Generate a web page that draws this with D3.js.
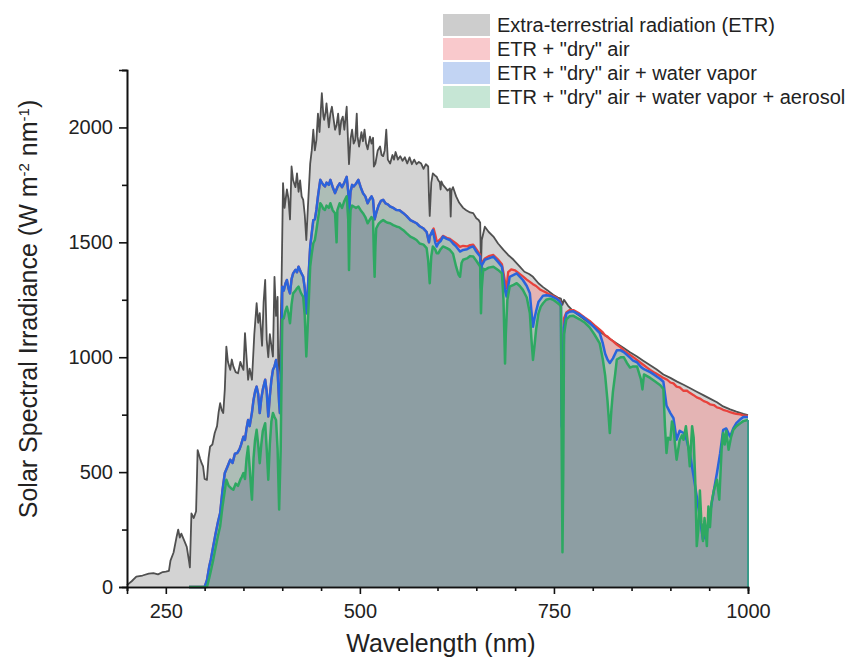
<!DOCTYPE html>
<html>
<head>
<meta charset="utf-8">
<script src="https://cdn.jsdelivr.net/npm/d3@7"></script>
<style>
  body { margin: 0; background: #fff; }
  text { font-family: "Liberation Sans", Arial, sans-serif; fill: #222; }
</style>
</head>
<body>
<script>
var w = 867;
var h = 666;

// [wavelength nm, irradiance W m-2 nm-1]
var etrData = [[200,8],[206,25],[212,45],[220,50],[228,58],[234,60],[240,55],[246,65],[250,67],[254,70],[256,115],[260,150],[264,220],[266,250],[268,215],[270,232],[274,200],[277,175],[280,110],[281,85],[283,320],[286,300],[289,330],[291,596],[294,560],[296,540],[298,525],[300,470],[303,466],[305,560],[307,611],[310,620],[313,670],[316,700],[318,760],[320,800],[322,770],[324,757],[326,860],[328,1046],[330,980],[333,945],[335,990],[337,960],[340,935],[343,930],[346,980],[348,960],[350,945],[352,1105],[354,1000],[356,902],[358,950],[361,902],[364,1100],[367,1235],[369,1150],[371,1192],[374,1050],[376,1240],[378,1336],[380,1075],[382,1000],[384,1100],[386,1050],[388,1003],[390,1350],[392,1180],[394,1263],[395,900],[397,1003],[399,1300],[401,1758],[403,1650],[406,1730],[408,1690],[410,1600],[412,1830],[414,1770],[417,1740],[419,1800],[421,1720],[423,1770],[425,1700],[427,1685],[429,1620],[431,1510],[433,1650],[436,1843],[438,1900],[440,1990],[442,1900],[444,1945],[446,2060],[448,1980],[451,2149],[453,2050],[454,2033],[456,2070],[457,2105],[460,2000],[462,2060],[464,2090],[466,2040],[468,1990],[470,2010],[472,2060],[474,1970],[476,2030],[478,2047],[480,1990],[483,2090],[485,1917],[486,1840],[488,1950],[490,1990],[492,1930],[494,1945],[496,2060],[497,1960],[499,1917],[502,1980],[504,1940],[506,1990],[508,1930],[510,1905],[513,1960],[515,1930],[517,1955],[518,1830],[520,1843],[523,1900],[526,1917],[528,1880],[530,1875],[532,1900],[534,1990],[536,1860],[539,1843],[542,1880],[544,1860],[546,1893],[549,1860],[552,1875],[555,1855],[558,1870],[561,1843],[564,1870],[567,1840],[570,1860],[573,1840],[576,1850],[579,1843],[582,1820],[585,1840],[588,1830],[589,1700],[590,1615],[592,1760],[594,1800],[597,1790],[599,1785],[601,1770],[603,1760],[604,1730],[605,1765],[607,1750],[610,1738],[613,1725],[616,1735],[617,1612],[618,1725],[620,1740],[624,1700],[628,1672],[633,1650],[637,1640],[642,1630],[646,1627],[650,1605],[653,1597],[655,1585],[656,1393],[657,1510],[661,1568],[666,1545],[672,1525],[678,1495],[685,1467],[691,1445],[698,1424],[706,1394],[712,1372],[718,1362],[723,1350],[730,1322],[736,1305],[741,1293],[749,1272],[755,1260],[759,1255],[761,1228],[763,1250],[768,1225],[775,1200],[783,1180],[792,1158],[798,1142],[805,1125],[813,1102],[822,1080],[830,1062],[840,1040],[848,1022],[857,1003],[865,985],[874,965],[882,948],[891,925],[900,910],[908,895],[917,880],[925,866],[934,850],[943,834],[951,820],[960,804],[968,786],[977,773],[985,763],[994,753],[1000,748]];

var dryAirData = [[280,0],[290,0],[300,0],[303,30],[306,90],[308,120],[311,175],[314,230],[317,280],[320,322],[323,420],[326,496],[329,520],[333,554],[336,540],[339,580],[342,583],[345,600],[347,620],[350,654],[352,640],[354,690],[356,727],[358,700],[361,760],[363,814],[365,850],[367,872],[369,840],[371,757],[373,820],[375,860],[378,902],[380,850],[382,742],[384,830],[386,900],[388,945],[390,960],[392,988],[394,940],[396,800],[397,757],[399,1000],[400,1307],[402,1290],[404,1320],[406,1336],[408,1300],[410,1278],[412,1340],[414,1365],[417,1380],[419,1370],[421,1394],[424,1370],[427,1350],[429,1300],[431,1191],[433,1300],[436,1482],[438,1540],[440,1597],[442,1600],[444,1641],[446,1700],[449,1772],[451,1760],[453,1750],[455,1743],[457,1760],[460,1750],[462,1772],[465,1740],[468,1714],[471,1740],[474,1757],[477,1740],[480,1760],[483,1785],[485,1720],[486,1627],[488,1720],[490,1750],[492,1743],[495,1755],[498,1772],[501,1740],[504,1714],[507,1700],[510,1670],[513,1690],[515,1700],[517,1685],[519,1600],[521,1627],[524,1660],[527,1680],[530,1685],[533,1670],[536,1665],[539,1656],[543,1650],[547,1641],[551,1640],[556,1627],[560,1615],[565,1597],[569,1590],[573,1583],[577,1570],[582,1560],[586,1545],[589,1500],[590,1527],[593,1545],[595,1560],[597,1535],[599,1505],[601,1505],[604,1515],[607,1528],[612,1520],[616,1515],[620,1505],[624,1495],[629,1480],[633,1485],[638,1482],[642,1488],[646,1490],[650,1470],[655,1445],[656,1310],[657,1410],[661,1430],[666,1440],[672,1445],[678,1425],[683,1405],[687,1330],[689,1300],[691,1370],[695,1382],[700,1378],[705,1365],[710,1352],[715,1338],[719,1328],[723,1318],[727,1310],[732,1295],[736,1288],[741,1280],[745,1272],[749,1266],[753,1260],[757,1248],[759,1235],[760,800],[761,684],[762,900],[763,1170],[766,1195],[770,1205],[775,1205],[783,1190],[790,1172],[796,1158],[802,1140],[809,1120],[813,1108],[816,1095],[819,1090],[822,1080],[826,1070],[831,1055],[836,1043],[840,1030],[844,1020],[848,1010],[853,998],[857,988],[862,975],[866,965],[870,955],[874,945],[880,932],[887,918],[891,910],[896,902],[900,890],[904,886],[908,872],[912,869],[917,854],[921,855],[925,845],[930,835],[934,825],[938,820],[943,809],[947,804],[951,795],[956,792],[960,782],[964,778],[968,771],[973,766],[977,761],[981,757],[985,753],[990,751],[994,747],[1000,745]];

var waterVaporData = [[280,0],[290,0],[300,0],[303,30],[306,90],[308,120],[311,175],[314,230],[317,280],[320,322],[323,420],[326,496],[329,520],[333,554],[336,540],[339,580],[342,583],[345,600],[347,620],[350,654],[352,640],[354,690],[356,727],[358,700],[361,760],[363,814],[365,850],[367,872],[369,840],[371,757],[373,820],[375,860],[378,902],[380,850],[382,742],[384,830],[386,900],[388,945],[390,960],[392,988],[394,940],[396,800],[397,757],[399,1000],[400,1307],[402,1290],[404,1320],[406,1336],[408,1300],[410,1278],[412,1340],[414,1365],[417,1380],[419,1370],[421,1394],[424,1370],[427,1350],[429,1300],[431,1191],[433,1300],[436,1482],[438,1540],[440,1597],[442,1600],[444,1641],[446,1700],[449,1772],[451,1760],[453,1750],[455,1743],[457,1760],[460,1750],[462,1772],[465,1740],[468,1714],[471,1740],[474,1757],[477,1740],[480,1760],[483,1785],[485,1720],[486,1627],[488,1720],[490,1750],[492,1743],[495,1755],[498,1772],[501,1740],[504,1714],[507,1700],[510,1670],[513,1690],[515,1700],[517,1685],[519,1600],[521,1627],[524,1660],[527,1680],[530,1685],[533,1670],[536,1665],[539,1656],[543,1650],[547,1641],[551,1640],[556,1627],[560,1615],[565,1597],[569,1590],[573,1583],[577,1570],[582,1560],[586,1545],[589,1500],[590,1525],[592,1540],[594,1553],[597,1500],[599,1482],[601,1496],[604,1505],[607,1525],[612,1515],[616,1510],[620,1495],[624,1482],[629,1460],[633,1467],[638,1470],[642,1478],[646,1482],[650,1460],[655,1438],[656,1300],[657,1400],[661,1424],[666,1430],[672,1438],[678,1415],[683,1394],[687,1290],[689,1264],[693,1350],[702,1365],[710,1336],[715,1310],[719,1278],[721,1200],[723,1133],[725,1170],[727,1200],[730,1240],[736,1268],[740,1270],[745,1268],[749,1262],[753,1255],[757,1245],[759,1230],[760,700],[761,684],[762,900],[763,1130],[766,1190],[770,1198],[775,1200],[779,1192],[783,1185],[790,1168],[796,1150],[802,1130],[809,1105],[813,1060],[816,1015],[819,990],[822,975],[826,995],[831,1030],[836,1030],[840,1022],[844,1010],[848,998],[852,985],[857,978],[862,958],[866,948],[870,942],[874,935],[880,922],[887,905],[891,893],[895,790],[900,757],[904,735],[908,641],[912,680],[917,670],[921,640],[925,583],[930,480],[934,394],[938,300],[942,206],[947,240],[951,322],[956,420],[960,496],[964,580],[968,684],[972,690],[977,654],[981,690],[985,713],[990,730],[994,740],[1000,740]];

var aerosolData = [[280,0],[290,0],[303,0],[306,40],[308,70],[311,117],[314,170],[317,220],[320,264],[323,350],[326,420],[328,467],[331,440],[334,430],[337,423],[340,450],[343,440],[346,467],[348,480],[350,496],[352,470],[354,560],[356,611],[358,520],[360,420],[361,380],[363,560],[365,640],[367,684],[369,620],[371,539],[373,620],[375,680],[378,713],[380,600],[382,467],[384,620],[386,720],[388,757],[390,740],[392,727],[394,600],[396,337],[398,600],[400,1162],[402,1170],[404,1200],[406,1220],[408,1190],[410,1148],[412,1230],[414,1278],[417,1290],[419,1300],[421,1307],[424,1280],[427,1263],[429,1180],[431,1003],[433,1150],[436,1394],[438,1450],[440,1496],[442,1510],[444,1553],[446,1600],[449,1670],[451,1660],[453,1645],[455,1641],[457,1660],[460,1650],[462,1670],[465,1640],[468,1627],[470,1500],[471,1640],[474,1670],[477,1650],[480,1680],[483,1700],[485,1600],[486,1380],[487,1550],[488,1640],[490,1660],[492,1656],[495,1650],[498,1656],[501,1640],[504,1627],[507,1610],[510,1583],[513,1600],[515,1610],[517,1597],[518,1450],[519,1350],[520,1480],[521,1560],[524,1580],[527,1590],[530,1597],[533,1590],[536,1585],[539,1583],[543,1575],[547,1569],[551,1565],[556,1553],[560,1540],[565,1525],[569,1518],[573,1510],[577,1495],[582,1490],[586,1475],[588,1420],[590,1322],[592,1440],[594,1482],[597,1470],[599,1452],[601,1452],[604,1470],[607,1482],[612,1475],[616,1467],[620,1450],[624,1394],[627,1360],[629,1350],[631,1410],[633,1424],[638,1430],[642,1440],[646,1438],[650,1420],[655,1394],[656,1191],[657,1300],[659,1385],[661,1380],[666,1390],[672,1394],[678,1380],[683,1365],[685,1250],[687,973],[688,1100],[690,1250],[693,1307],[698,1315],[702,1322],[706,1310],[710,1293],[715,1260],[719,1191],[721,1080],[723,988],[725,1050],[727,1120],[730,1190],[733,1220],[736,1235],[740,1250],[745,1255],[749,1250],[753,1240],[757,1230],[759,1220],[760,600],[761,151],[762,500],[763,1100],[766,1165],[770,1178],[775,1180],[779,1172],[783,1165],[790,1150],[796,1130],[802,1100],[809,1060],[813,990],[816,920],[819,810],[822,670],[824,770],[826,850],[829,930],[831,990],[836,1000],[840,1000],[844,975],[848,955],[852,960],[857,960],[862,905],[864,860],[866,925],[870,918],[874,910],[880,895],[887,878],[891,862],[893,700],[895,583],[897,650],[900,641],[902,720],[904,699],[906,620],[908,554],[912,640],[915,660],[917,641],[920,700],[923,610],[925,525],[928,700],[930,650],[932,465],[934,178],[936,250],[938,420],[940,279],[942,200],[944,300],[947,178],[949,350],[951,260],[953,365],[956,420],[960,467],[963,380],[966,600],[968,670],[970,620],[972,680],[975,597],[978,650],[981,684],[985,700],[990,713],[994,722],[1000,727]];

var legendLabels = ["Extra-terrestrial radiation (ETR)", "ETR + \"dry\" air", "ETR + \"dry\" air + water vapor", "ETR + \"dry\" air + water vapor + aerosol"];
var xMajor = [250, 500, 750, 1000];
var xMinor = [200, 300, 350, 400, 450, 550, 600, 650, 700, 800, 850, 900, 950];
var yMajor = [0, 500, 1000, 1500, 2000];
var yMinor = [250, 750, 1250, 1750, 2250];

var series = [
  { data: etrData, fill: "#d3d3d3", line: "#505050", lw: 1.8, swatch: "#cdcdcd" },
  { data: dryAirData, fill: "#e4b4b4", line: "#e8423c", lw: 2.3, swatch: "#f9c9cc" },
  { data: waterVaporData, fill: "#adbdb6", line: "#2a64dc", lw: 2.5, swatch: "#c2d4f3" },
  { data: aerosolData, fill: "#8d9ea3", line: "#2ea862", lw: 2.5, swatch: "#c6e6d5" }
];

var svg = d3.select("body").append("svg")
  .attr("width", w)
  .attr("height", h);

var xScale = d3.scaleLinear().domain([200, 1000]).range([127, 748]);
var yScale = d3.scaleLinear().domain([0, 2250]).range([587, 70]);

var area = d3.area()
  .x(function(d) { return xScale(d[0]); })
  .y0(yScale(0))
  .y1(function(d) { return yScale(d[1]); });

var line = d3.line()
  .x(function(d) { return xScale(d[0]); })
  .y(function(d) { return yScale(d[1]); });

series.forEach(function(s) {
  svg.append("path")
    .attr("d", area(s.data))
    .attr("fill", s.fill);
});

series.forEach(function(s) {
  svg.append("path")
    .attr("d", line(s.data))
    .attr("fill", "none")
    .attr("stroke", s.line)
    .attr("stroke-width", s.lw)
    .attr("stroke-linejoin", "round");
});

// aerosol edge down to the axis at 1000 nm
var last = aerosolData[aerosolData.length - 1];
svg.append("line")
  .attr("x1", xScale(last[0])).attr("x2", xScale(last[0]))
  .attr("y1", yScale(last[1])).attr("y2", yScale(0))
  .attr("stroke", "#3a9a8a")
  .attr("stroke-width", 2);

// axes
var xAxis = d3.axisBottom(xScale).tickValues(xMajor).tickSize(7).tickPadding(10).tickFormat(d3.format("d"));
var xAxisMinor = d3.axisBottom(xScale).tickValues(xMinor).tickSize(4).tickFormat("");
var yAxis = d3.axisLeft(yScale).tickValues(yMajor).tickSize(8).tickPadding(6).tickFormat(d3.format("d"));
var yAxisMinor = d3.axisLeft(yScale).tickValues(yMinor).tickSize(5).tickFormat("");

function styleAxis(g) {
  g.select(".domain").attr("stroke", "#111").attr("stroke-width", 1.6);
  g.selectAll(".tick line").attr("stroke", "#111").attr("stroke-width", 1.6);
  g.selectAll(".tick text").style("font-size", "20px").attr("fill", "#333");
}

svg.append("g").attr("transform", "translate(0," + yScale(0) + ")").call(xAxisMinor).call(styleAxis);
svg.append("g").attr("class", "x axis").attr("transform", "translate(0," + yScale(0) + ")").call(xAxis).call(styleAxis);
svg.append("g").attr("transform", "translate(" + xScale(200) + ",0)").call(yAxisMinor).call(styleAxis);
svg.append("g").attr("class", "y axis").attr("transform", "translate(" + xScale(200) + ",0)").call(yAxis).call(styleAxis);

svg.append("text")
  .attr("x", 441)
  .attr("y", 652)
  .style("text-anchor", "middle")
  .style("font-size", "25px")
  .text("Wavelength (nm)");

var yt = svg.append("text")
  .attr("transform", "translate(37,309) rotate(-90)")
  .style("text-anchor", "middle")
  .style("font-size", "25px");
yt.append("tspan").text("Solar Spectral Irradiance (W m");
yt.append("tspan").attr("baseline-shift", "super").style("font-size", "15px").text("-2");
yt.append("tspan").text(" nm");
yt.append("tspan").attr("baseline-shift", "super").style("font-size", "15px").text("-1");
yt.append("tspan").text(")");

// legend
var lg = svg.append("g").attr("transform", "translate(443,14)");
legendLabels.forEach(function(label, i) {
  lg.append("rect")
    .attr("x", 0)
    .attr("y", i * 24)
    .attr("width", 47)
    .attr("height", 22)
    .attr("fill", series[i].swatch);
  lg.append("text")
    .attr("x", 54)
    .attr("y", i * 24 + 18)
    .style("font-size", "20px")
    .attr("fill", "#222")
    .text(label);
});
</script>
</body>
</html>
